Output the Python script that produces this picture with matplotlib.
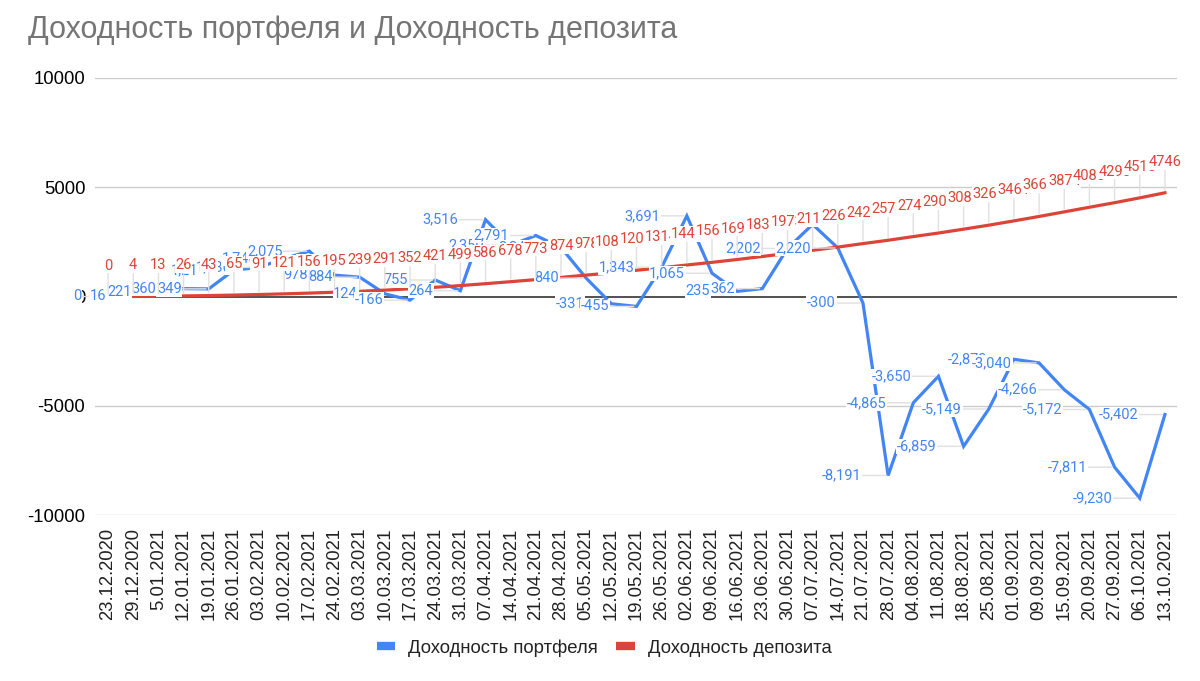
import matplotlib
matplotlib.use("Agg")
import matplotlib.pyplot as plt
from matplotlib.lines import Line2D

plt.rcParams['axes.unicode_minus'] = False

dates = ["23.12.2020", "29.12.2020", "5.01.2021", "12.01.2021", "19.01.2021", "26.01.2021",
         "03.02.2021", "10.02.2021", "17.02.2021", "24.02.2021", "03.03.2021", "10.03.2021",
         "17.03.2021", "24.03.2021", "31.03.2021", "07.04.2021", "14.04.2021", "21.04.2021",
         "28.04.2021", "05.05.2021", "12.05.2021", "19.05.2021", "26.05.2021", "02.06.2021",
         "09.06.2021", "16.06.2021", "23.06.2021", "30.06.2021", "07.07.2021", "14.07.2021",
         "21.07.2021", "28.07.2021", "04.08.2021", "11.08.2021", "18.08.2021", "25.08.2021",
         "01.09.2021", "09.09.2021", "15.09.2021", "20.09.2021", "27.09.2021", "06.10.2021",
         "13.10.2021"]

portfolio = [0, 16, 221, 360, 349, 1210, 1330, 1740, 2075, 978, 884, 124,
             -166, 755, 264, 3516, 2350, 2791, 2240, 840, -331, -455, 1343, 3691,
             1065, 235, 362, 2202, 3300, 2220, -300, -8191, -4865, -3650, -6859, -5149,
             -2873, -3040, -4266, -5172, -7811, -9230, -5402]

deposit = [0, 4, 13, 26, 43, 65, 91, 121, 156, 195, 239, 291,
           352, 421, 499, 586, 678, 773, 874, 978, 1083, 1201, 1314, 1442,
           1563, 1693, 1832, 1973, 2115, 2262, 2421, 2574, 2742, 2905, 3082, 3264,
           3461, 3663, 3874, 4085, 4293, 4515, 4746]

yticks = [-10000, -5000, 0, 5000, 10000]

BLUE = "#4285F4"
RED = "#DB4437"

fig = plt.figure(figsize=(12, 6.81), dpi=100)
ax = fig.add_axes([95/1200, 1 - 515/681, (1177 - 95)/1200, (515 - 78)/681])

x = list(range(len(dates)))
ax.plot(x, portfolio, color=BLUE, lw=2.3, zorder=3, solid_joinstyle='miter')
ax.plot(x, deposit, color=RED, lw=2.3, zorder=3)

ax.set_xlim(-0.52, len(dates) - 1 + 0.48)
ax.set_ylim(-10000, 10000)
ax.set_yticks(yticks)
ax.set_yticklabels([str(v) for v in yticks], fontsize=13.3, family="Liberation Sans", color="#000000")
ax.set_xticks(x)
ax.set_xticklabels(dates, rotation=90, fontsize=13.3, family="Liberation Sans", color="#222222")
ax.tick_params(axis='both', length=0)
ax.tick_params(axis='x', pad=9)
ax.tick_params(axis='y', pad=7)
for s in ax.spines.values():
    s.set_visible(False)
for v in yticks:
    if v != 0:
        ax.axhline(v, color="#cccccc", lw=1, zorder=1)
ax.axhline(0, color="#333333", lw=1.2, zorder=2)

label_font = dict(fontsize=10.5, family="Roboto")
for i, v in enumerate(portfolio):
    ax.annotate(f"{v:,}", xy=(i, v), xytext=(-27, 0), textcoords='offset pixels',
                ha='right', va='center', color=BLUE, zorder=4, annotation_clip=False,
                bbox=dict(boxstyle='square,pad=0.05', fc='white', ec='none'),
                arrowprops=dict(arrowstyle='-', color='#e0e0e0', lw=1, shrinkA=0, shrinkB=2),
                **label_font)
for i, v in enumerate(deposit):
    ax.annotate(f"{v}", xy=(i, v), xytext=(0, 31), textcoords='offset pixels',
                ha='center', va='center', color=RED, zorder=5, annotation_clip=False,
                bbox=dict(boxstyle='square,pad=0.05', fc='white', ec='none'),
                arrowprops=dict(arrowstyle='-', color='#e0e0e0', lw=1, shrinkA=0, shrinkB=2),
                **label_font)

fig.text(28/1200, 1 - 30/681, "Доходность портфеля и Доходность депозита",
         fontsize=22, family="Liberation Sans", color="#757575", va='center', ha='left')

handles = [Line2D([0], [0], color=BLUE, lw=6, solid_capstyle='butt'),
           Line2D([0], [0], color=RED, lw=6, solid_capstyle='butt')]
fig.legend(handles, ["Доходность портфеля", "Доходность депозита"], loc='center',
           bbox_to_anchor=(604/1200, 1 - 648/681), ncol=2, frameon=False,
           prop=dict(family="Liberation Sans", size=13.3), labelcolor="#222222",
           handlelength=1.0, handletextpad=0.7, columnspacing=1.0)

fig.savefig("out.png", dpi=100, facecolor="white")
